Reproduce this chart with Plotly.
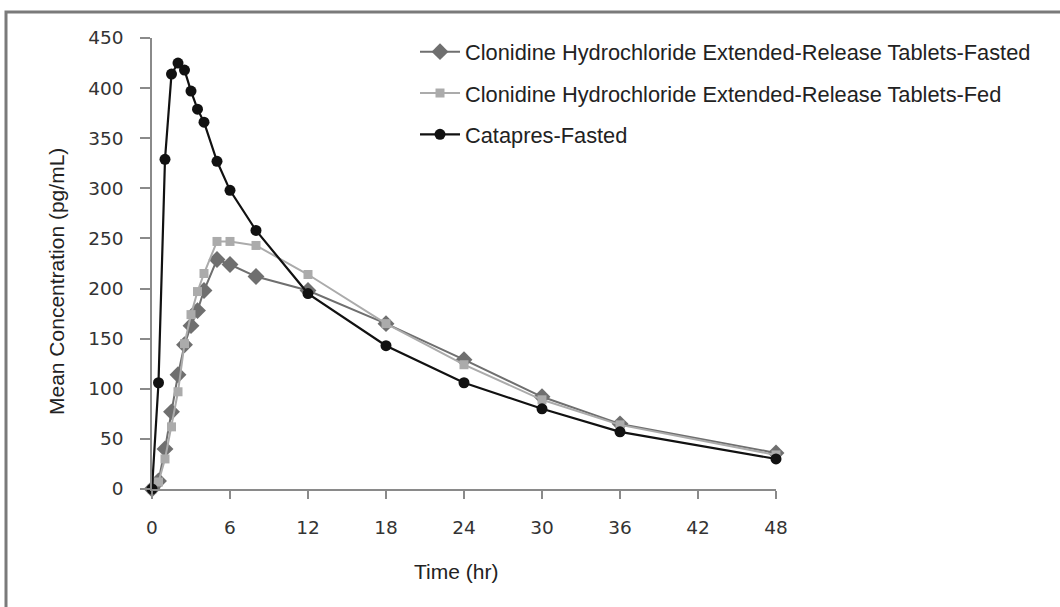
import plotly.graph_objects as go

time_hr = [0, 0.5, 1, 1.5, 2, 2.5, 3, 3.5, 4, 5, 6, 8, 12, 18, 24, 30, 36, 48]
er_fasted = [0, 8, 40, 77, 114, 144, 163, 178, 198, 229, 224, 212, 198, 165, 129, 92, 65, 36]
er_fed = [0, 7, 30, 62, 97, 145, 174, 197, 215, 247, 247, 243, 214, 165, 124, 89, 64, 34]
catapres = [0, 106, 329, 414, 425, 418, 397, 379, 366, 327, 298, 258, 195, 143, 106, 80, 57, 30]

names = [
    "Clonidine Hydrochloride Extended-Release Tablets-Fasted",
    "Clonidine Hydrochloride Extended-Release Tablets-Fed",
    "Catapres-Fasted",
]
x_ticks = [0, 6, 12, 18, 24, 30, 36, 42, 48]
y_ticks = [0, 50, 100, 150, 200, 250, 300, 350, 400, 450]
x_title = "Time (hr)"
y_title = "Mean Concentration (pg/mL)"

fig = go.Figure()
fig.add_trace(go.Scatter(x=time_hr, y=er_fasted, name=names[0], legendgroup="a", mode="lines+markers",
                         line=dict(color="#6f6f6f", width=2),
                         marker=dict(symbol="diamond", size=13, color="#6f6f6f"),
                         cliponaxis=False))
fig.add_trace(go.Scatter(x=time_hr, y=er_fed, name=names[1], legendgroup="b", mode="lines+markers",
                         line=dict(color="#ababab", width=2),
                         marker=dict(symbol="square", size=9, color="#ababab"),
                         cliponaxis=False))
fig.add_trace(go.Scatter(x=time_hr, y=catapres, name=names[2], legendgroup="c", mode="lines+markers",
                         line=dict(color="#111111", width=2.2),
                         marker=dict(symbol="circle", size=11, color="#111111"),
                         cliponaxis=False))

L, R, T, B = 152, 1060 - 776, 38, 607 - 489
W, H = 1060 - L - R, 607 - T - B

def px(xp):
    return (xp - L) / W

def py(yp):
    return (607 - B - yp) / H

fig.add_shape(type="rect", xref="paper", yref="paper",
              x0=px(6), x1=px(1070), y0=py(620), y1=py(12),
              line=dict(color="#7a7a7a", width=3), fillcolor="rgba(0,0,0,0)", layer="below")

title_font = dict(family="Liberation Sans, Arial", size=21, color="#222")
fig.add_annotation(text=x_title, xref="paper", yref="paper", x=px(456), y=py(571),
                   xanchor="center", yanchor="middle", showarrow=False, font=title_font)
fig.add_annotation(text=y_title, xref="paper", yref="paper", x=px(56), y=py(282),
                   xanchor="center", yanchor="middle", showarrow=False, textangle=-90,
                   font=title_font)

fig.update_layout(
    width=1060, height=607,
    margin=dict(l=L, r=R, t=T, b=B),
    paper_bgcolor="white", plot_bgcolor="white",
    font=dict(family="Liberation Sans, Arial", color="#222"),
    showlegend=True,
    legend=dict(x=px(415), y=py(31), xanchor="left", yanchor="top",
                font=dict(size=21.8, family="Liberation Sans, Arial", color="#222"),
                bgcolor="rgba(0,0,0,0)", tracegroupgap=10, itemwidth=40),
    xaxis=dict(range=[0, 48], tickvals=x_ticks, ticktext=[str(v) for v in x_ticks],
               showgrid=False, zeroline=False, showline=True, linecolor="#8a8a8a", linewidth=1.5,
               ticks="outside", ticklen=8, tickcolor="#8a8a8a", tickwidth=1.5,
               tickfont=dict(family="DejaVu Sans", size=18.5, color="#333"),
               ticklabelstandoff=13),
    yaxis=dict(range=[0, 450], tickvals=y_ticks, ticktext=[str(v) for v in y_ticks],
               showgrid=False, zeroline=False, showline=True, linecolor="#8a8a8a", linewidth=1.5,
               ticks="outside", ticklen=10, tickcolor="#8a8a8a", tickwidth=1.5,
               tickfont=dict(family="DejaVu Sans", size=18.5, color="#333"),
               ticklabelstandoff=13),
)

fig.write_html("out.html", config={"displayModeBar": False},
               post_script="document.body.style.margin='0';")
